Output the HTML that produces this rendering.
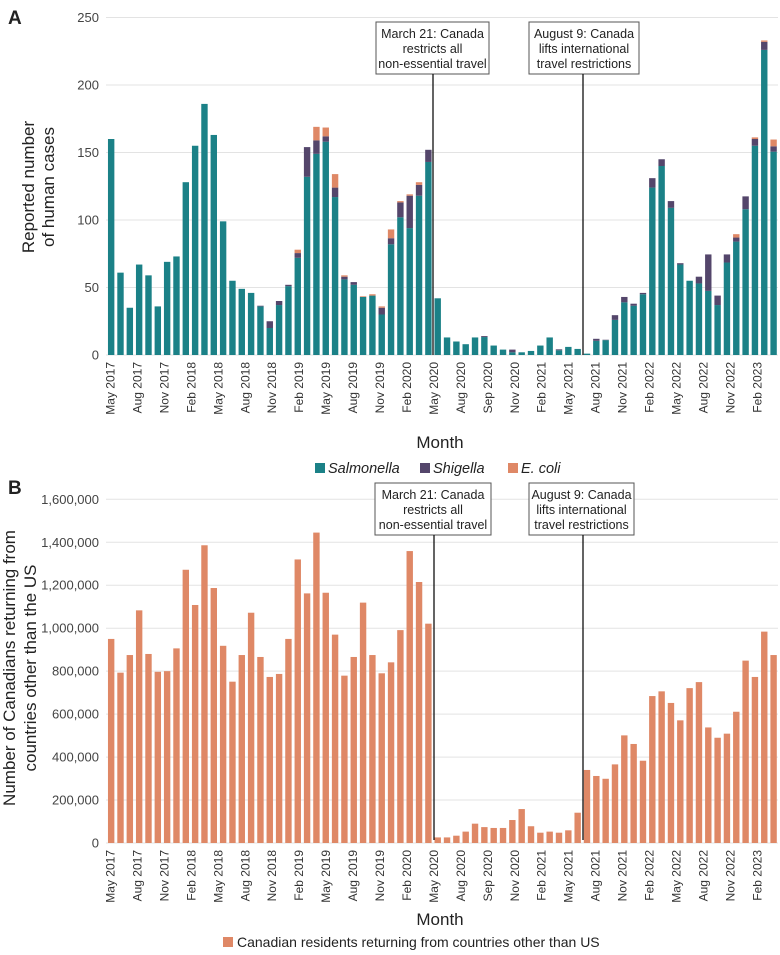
<!DOCTYPE html>
<html><head><meta charset="utf-8">
<style>
html,body{margin:0;padding:0;background:#fff;}
svg{display:block;font-family:"Liberation Sans",sans-serif;}
</style></head>
<body>
<svg id="chart" width="780" height="955" viewBox="0 0 780 955" xmlns="http://www.w3.org/2000/svg">
<g id="gA"></g>
<g id="gB"></g>
</svg>
<script>
const tickLabels = ["May 2017","Aug 2017","Nov 2017","Feb 2018","May 2018","Aug 2018","Nov 2018","Feb 2019","May 2019","Aug 2019","Nov 2019","Feb 2020","May 2020","Aug 2020","Sep 2020","Nov 2020","Feb 2021","May 2021","Aug 2021","Nov 2021","Feb 2022","May 2022","Aug 2022","Nov 2022","Feb 2023"];
const salmonella = [160,61,35,67,59,36,69,73,128,155,186,163,99,55,49,46,36,20,37,51,72,132,149,158,117,56,52,43,44,30,82,102,94,118,143,42,13,10,8,13,13.3,7,4,2,2,3,7,13,3.5,6,4.5,1,10.5,11,26,39,36.5,45,124,140,109,67,55,53,47.5,37,68.5,84,108,155,226,150.6];
const shigella = [0,0,0,0,0,0,0,0,0,0,0,0,0,0,0,0,0.5,5,3,1,3.5,22,10,4,7,2,2,0,0,5,4.5,11,24,8,9,0,0,0,0,0,0.7,0,0,2,0,0,0,0,0.7,0,0,0,1.5,0.3,3.5,4,1.5,1,7,5,5,1,0,5,27,7,6,3,9.5,5,6,4];
const ecoli = [0,0,0,0,0,0,0,0,0,0,0,0,0,0,0,0,0,0,0,0,2.5,0,10,6.5,10,1,0,0.5,1,1,6.5,1,1,2,0,0,0,0,0,0,0,0,0,0,0,0,0,0,0,0,0,0,0,0,0,0,0,0,0,0,0,0,0,0,0,0,0,2.5,0,1.2,1,5];
const travellers = [950000,793000,875000,1083000,880000,797000,800000,906000,1272000,1108000,1386000,1187000,918000,751000,875000,1072000,866000,773000,787000,950000,1320000,1162000,1445000,1165000,970000,779000,866000,1119000,875000,790000,841000,991000,1359000,1215000,1021000,26000,26000,34000,53000,90000,74000,70000,70000,107000,158000,78000,48000,53000,48000,59000,141000,340000,312000,299000,366000,501000,461000,383000,684000,706000,652000,571000,721000,749000,538000,490000,509000,611000,849000,773000,984000,875000];
const yTicksA = [0,50,100,150,200,250];
const yTicksB = [0,200000,400000,600000,800000,1000000,1200000,1400000,1600000];

const NS="http://www.w3.org/2000/svg";
const C_SAL="#1b8187", C_SHI="#54466b", C_ECO="#df8866", GRID="#e3e3e3";
function mk(parent,tag,attrs,text){const e=document.createElementNS(NS,tag);for(const k in attrs)e.setAttribute(k,attrs[k]);if(text!==undefined)e.textContent=text;parent.appendChild(e);return e;}
const N=72, X0=106.5, SLOT=9.33, BW=6.4;
function xc(i){return X0+SLOT*(i+0.5);}
function xLabel(i){return 110+i*26.95;}

function axes(g,ticks,yfun,fmt,baseY,labelY){
  ticks.forEach(t=>{
    const y=yfun(t);
    const l=mk(g,'line',{x1:106,x2:778,y1:y,y2:y,stroke:GRID,'stroke-width':1});
    
    
    const tx=mk(g,'text',{x:99,y:y+4.5,'text-anchor':'end','font-size':13,fill:'#444'},fmt(t));
    
    
  });
  tickLabels.forEach((s,i)=>{
    const x=xLabel(i);
    const t=mk(g,'text',{x:0,y:0,transform:`translate(${x+4.5},${labelY}) rotate(-90)`,'text-anchor':'end','font-size':12,fill:'#333'},s);
    
    
  });
}
function annot(g,x0,y0,w,h,lines,lineX,lineBottom){
  const r=mk(g,'rect',{x:x0,y:y0,width:w,height:h,fill:'#fff',stroke:'#555','stroke-width':1});
  
  
  lines.forEach((s,k)=>{
    const t=mk(g,'text',{x:x0+w/2,y:y0+16+k*15,'text-anchor':'middle','font-size':12.5,fill:'#222'},s);
    
    
  });
  const l=mk(g,'line',{x1:lineX,x2:lineX,y1:y0+h,y2:lineBottom,stroke:'#111','stroke-width':1.3});
  
  
}

// Chart A
const gA=document.getElementById('gA');
const A0=355, AK=337.5/250;
function yA(v){return A0-v*AK;}
axes(gA,yTicksA,yA,v=>String(v),A0,362);
for(let i=0;i<N;i++){
  let base=0;
  [[salmonella,C_SAL,'bar-salmonella'],[shigella,C_SHI,'bar-shigella'],[ecoli,C_ECO,'bar-ecoli']].forEach(([arr,col,nm])=>{
    const v=arr[i]; if(!v) return;
    const r=mk(gA,'rect',{x:xc(i)-BW/2,y:yA(base+v),width:BW,height:v*AK,fill:col});
    
    
    base+=v;
  });
}
annot(gA,376,22,113,52,["March 21: Canada","restricts all","non-essential travel"],433,355);
annot(gA,529,22,110,52,["August 9: Canada","lifts international","travel restrictions"],583,355);
let t;
t=mk(gA,'text',{x:8,y:24,'font-size':19,'font-weight':'bold',fill:'#222'},'A');

t=mk(gA,'text',{transform:'translate(38,187) rotate(-90)','text-anchor':'middle','font-size':17,fill:'#222'});

mk(t,'tspan',{x:0,y:-4},'Reported number');mk(t,'tspan',{x:0,y:16},'of human cases');
t=mk(gA,'text',{x:440,y:448,'text-anchor':'middle','font-size':17,fill:'#222'},'Month');

const legA=mk(gA,'g',{});

[[C_SAL,'Salmonella',315],[C_SHI,'Shigella',420],[C_ECO,'E. coli',508]].forEach(([c,s,x])=>{
  const r=mk(legA,'rect',{x:x,y:463,width:10,height:10,fill:c});
  
  const tt=mk(legA,'text',{x:x+13,y:473,'font-size':14.5,'font-style':'italic',fill:'#222'},s);
  
});

// Chart B
const gB=document.getElementById('gB');
const B0=843, BK=(843-499.3)/1600000;
function yB(v){return B0-v*BK;}
axes(gB,yTicksB,yB,v=>v.toLocaleString('en-US'),B0,850);
for(let i=0;i<N;i++){
  const v=travellers[i];
  const r=mk(gB,'rect',{x:xc(i)-BW/2,y:yB(v),width:BW,height:v*BK,fill:C_ECO});
  
  
}
annot(gB,375,483,116,52,["March 21: Canada","restricts all","non-essential travel"],434,840);
annot(gB,529,483,105,52,["August 9: Canada","lifts international","travel restrictions"],583,840);
t=mk(gB,'text',{x:8,y:494,'font-size':19,'font-weight':'bold',fill:'#222'},'B');

t=mk(gB,'text',{transform:'translate(21,668) rotate(-90)','text-anchor':'middle','font-size':17,fill:'#222'});

mk(t,'tspan',{x:0,y:-6},'Number of Canadians returning from');mk(t,'tspan',{x:0,y:15},'countries other than the US');
t=mk(gB,'text',{x:440,y:925,'text-anchor':'middle','font-size':17,fill:'#222'},'Month');

const legB=mk(gB,'g',{});

let r=mk(legB,'rect',{x:223,y:937,width:10,height:10,fill:C_ECO});

t=mk(legB,'text',{x:237,y:947,'font-size':14,fill:'#222'},'Canadian residents returning from countries other than US');

</script>
</body></html>
